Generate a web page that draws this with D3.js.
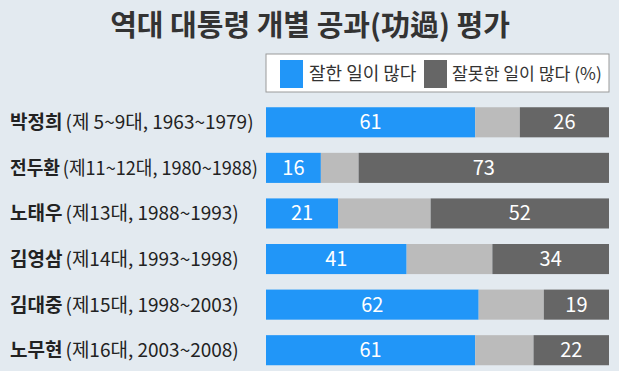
<!DOCTYPE html>
<html><head><meta charset="utf-8">
<script src="https://cdn.jsdelivr.net/npm/d3@7"></script>
<style>
html,body{margin:0;padding:0;background:#e3eaf0;}
svg{display:block;font-family:"Noto Sans CJK KR","Noto Sans",sans-serif;}
</style></head><body>
<script>
const names = ["박정희","전두환","노태우","김영삼","김대중","노무현"];
const terms = ["(제 5~9대, 1963~1979)","(제11~12대, 1980~1988)","(제13대, 1988~1993)","(제14대, 1993~1998)","(제15대, 1998~2003)","(제16대, 2003~2008)"];
const good = [61,16,21,41,62,61];
const bad = [26,73,52,34,19,22];
const legendLabels = ["잘한 일이 많다","잘못한 일이 많다 (%)"];
const title = "역대 대통령 개별 공과(功過) 평가";

const W=619,H=371;
const svg=d3.select("body").append("svg").attr("width",W).attr("height",H);
svg.append("rect").attr("width",W).attr("height",H).attr("fill","#e3eaf0");

svg.append("text").attr("x",310).attr("y",36).attr("text-anchor","middle")
  .attr("font-size",29).attr("font-weight",700).attr("fill","#333").text(title);

// legend
const lg=svg.append("g");
lg.append("rect").attr("x",266).attr("y",54).attr("width",343).attr("height",38)
  .attr("fill","#fff").attr("stroke","#9a9a9a").attr("stroke-width",1);
const colors=["#2196f8","#666666"];
const lgX=[280,424], lgT=[309,452];
const lgSize=[18,17.2];
legendLabels.forEach((t,i)=>{
  lg.append("rect").attr("x",lgX[i]).attr("y",60).attr("width",23).attr("height",28).attr("fill",colors[i]);
  lg.append("text").attr("x",lgT[i]).attr("y",80).attr("font-size",lgSize[i]).attr("fill","#333").text(t);
});

const x=d3.scaleLinear().domain([0,100]).range([266,609]);
const y=d3.scaleBand().domain(d3.range(names.length)).range([99.5,373]).paddingInner(0.34).paddingOuter(0.17);

const rows=svg.append("g").selectAll("g").data(names).join("g");
rows.each(function(n,i){
  const g=d3.select(this);
  const g0=good[i], b0=bad[i], mid=100-g0-b0;
  const segs=[[0,g0,"#2196f8",g0],[g0,g0+mid,"#bbbbbb",null],[g0+mid,100,"#666666",b0]];
  const y0=y(i), h=y.bandwidth();
  segs.forEach(s=>{
    g.append("rect").attr("x",x(s[0])).attr("y",y0).attr("width",x(s[1])-x(s[0])).attr("height",h).attr("fill",s[2]);
    if(s[3]!==null) g.append("text").attr("x",(x(s[0])+x(s[1]))/2).attr("y",y0+h/2+7)
      .attr("text-anchor","middle").attr("font-size",20).attr("fill","#fff").text(s[3]);
  });
  const t=g.append("text").attr("x",10).attr("y",y0+h/2+7).attr("font-size",19).attr("fill","#222");
  t.append("tspan").attr("font-weight",700).text(n);
  t.append("tspan").attr("dx",3).text(terms[i]);
  const maxW=248;
  if(t.node().getComputedTextLength()>maxW){
    t.attr("textLength",maxW).attr("lengthAdjust","spacingAndGlyphs");
  }
});
</script>
</body></html>
